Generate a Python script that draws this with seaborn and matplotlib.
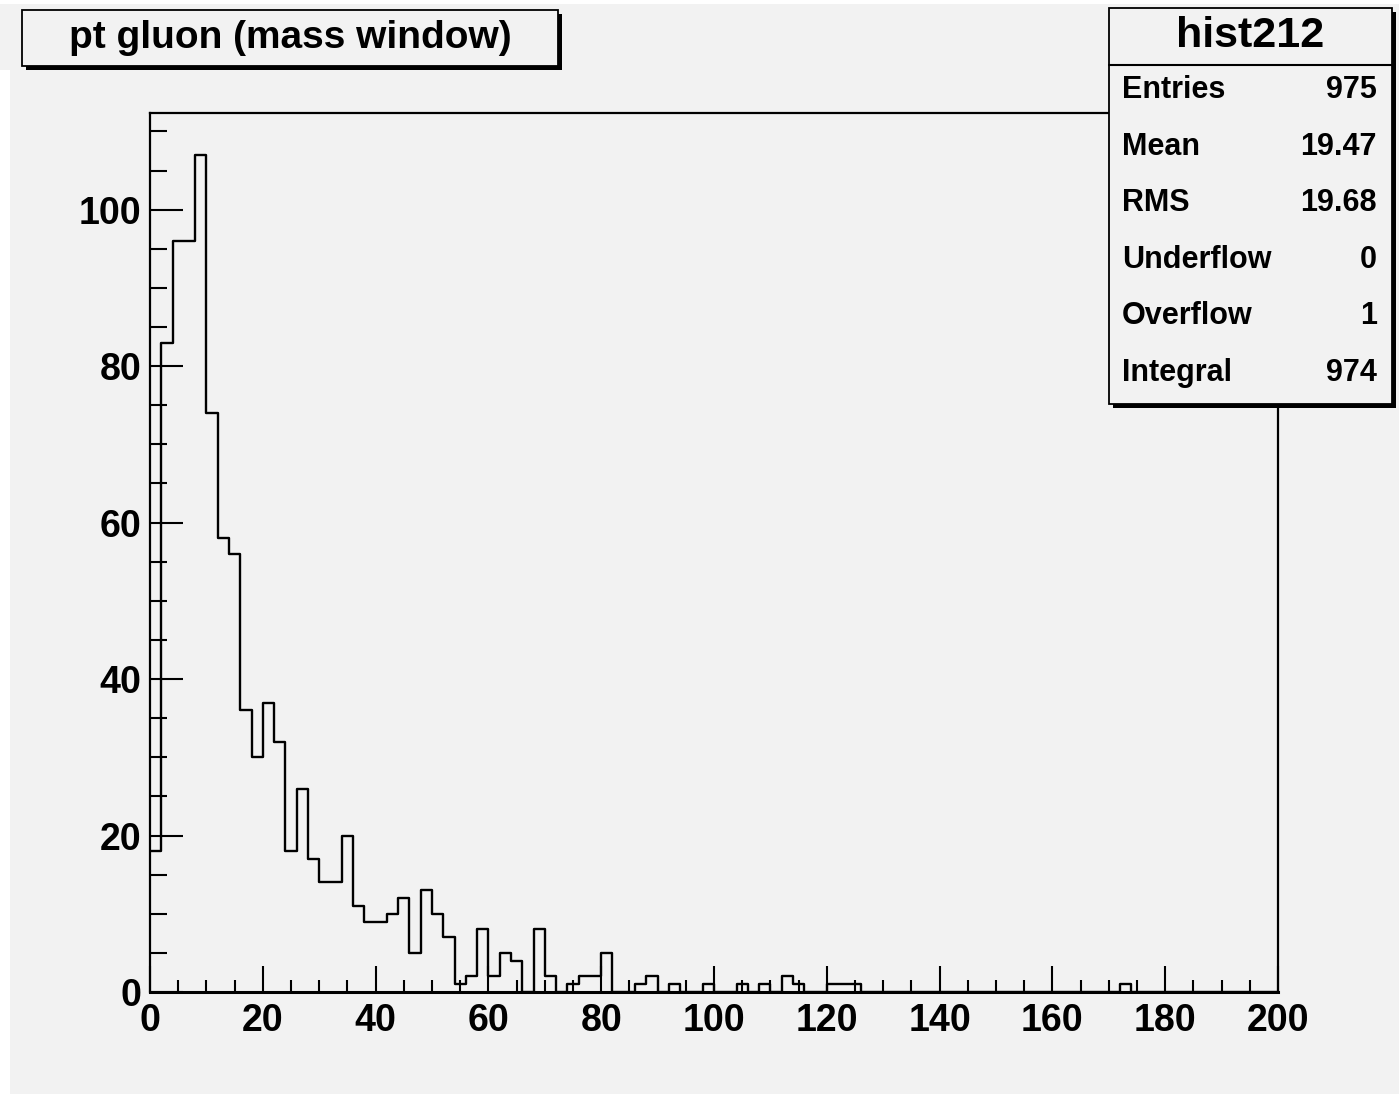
import numpy as np
import pandas as pd
import matplotlib
matplotlib.use("Agg")
import matplotlib.pyplot as plt
from matplotlib.patches import Rectangle
from matplotlib.lines import Line2D
from matplotlib.ticker import MultipleLocator
import seaborn as sns

# bin contents, 100 bins of width 2 from 0 to 200
counts = [18, 83, 96, 96, 107, 74, 58, 56, 36, 30,
          37, 32, 18, 26, 17, 14, 14, 20, 11, 9,
          9, 10, 12, 5, 13, 10, 7, 1, 2, 8,
          2, 5, 4, 0, 8, 2, 0, 1, 2, 2,
          5, 0, 0, 1, 2, 0, 1, 0, 0, 1,
          0, 0, 1, 0, 1, 0, 2, 1, 0, 0,
          1, 1, 1, 0, 0, 0, 0, 0, 0, 0,
          0, 0, 0, 0, 0, 0, 0, 0, 0, 0,
          0, 0, 0, 0, 0, 0, 1, 0, 0, 0,
          0, 0, 0, 0, 0, 0, 0, 0, 0, 0]
x_range = (0, 200)
x_ticks = [0, 20, 40, 60, 80, 100, 120, 140, 160, 180, 200]
y_ticks = [0, 20, 40, 60, 80, 100]

title = "pt gluon (mass window)"
hist_name = "hist212"
stat_labels = ["Entries", "Mean", "RMS", "Underflow", "Overflow", "Integral"]
stat_values = ["975", "19.47", "19.68", "0", "1", "974"]

W, H = 1399, 1094
BG = "#f2f2f2"

sns.set_style("ticks")
plt.rcParams["font.family"] = ["Liberation Sans", "DejaVu Sans"]
plt.rcParams["font.weight"] = "bold"
plt.rcParams["text.color"] = "black"
plt.rcParams["xtick.labelcolor"] = "black"
plt.rcParams["ytick.labelcolor"] = "black"


def fx(x):
    return x / W


def fy(y):
    return 1 - y / H


def box(fig, x0, y0, x1, y1, shadow=4):
    # ROOT style pave with a black drop shadow
    fig.add_artist(Rectangle((fx(x0 + shadow), fy(y1 + shadow)), fx(x1 - x0), (y1 - y0) / H,
                             transform=fig.transFigure, facecolor="black", edgecolor="none", zorder=5))
    fig.add_artist(Rectangle((fx(x0), fy(y1)), fx(x1 - x0), (y1 - y0) / H,
                             transform=fig.transFigure, facecolor=BG, edgecolor="black",
                             linewidth=1.3, zorder=6))


fig = plt.figure(figsize=(W / 100, H / 100), dpi=100, facecolor=BG)
# white canvas edges
fig.add_artist(Rectangle((0, fy(4)), 1, 4 / H, transform=fig.transFigure,
                         facecolor="white", edgecolor="none", zorder=0))
fig.add_artist(Rectangle((0, 0), fx(10), fy(70), transform=fig.transFigure,
                         facecolor="white", edgecolor="none", zorder=0))
ax = fig.add_axes([fx(150), fy(992), fx(1278 - 150), (992 - 113) / H])
ax.set_facecolor(BG)

nbins = len(counts)
width = (x_range[1] - x_range[0]) / nbins
df = pd.DataFrame({"pt": x_range[0] + width * (np.arange(nbins) + 0.5), "n": counts})
sns.histplot(data=df, x="pt", weights="n", bins=nbins, binrange=x_range,
             element="step", fill=False, color="black", linewidth=1.7, ax=ax)

ax.set_xlim(*x_range)
ax.set_ylim(0, max(counts) * 1.05)
ax.set_xticks(x_ticks)
ax.set_yticks(y_ticks)
ax.xaxis.set_minor_locator(MultipleLocator(5))
ax.yaxis.set_minor_locator(MultipleLocator(5))
ax.set_xlabel("")
ax.set_ylabel("")
for s in ax.spines.values():
    s.set_visible(True)
    s.set_color("black")
    s.set_linewidth(1.6)
ax.spines["bottom"].set_linewidth(2.2)
ax.tick_params(axis="both", which="both", direction="in", color="black", width=1.5,
               labelsize=27, labelcolor="black", top=False, right=False)
ax.tick_params(axis="y", which="major", length=24, pad=6)
ax.tick_params(axis="y", which="minor", length=12)
ax.tick_params(axis="x", which="major", length=19, pad=8)
ax.tick_params(axis="x", which="minor", length=9)
for lab in ax.get_xticklabels() + ax.get_yticklabels():
    lab.set_fontweight("bold")

# title pave
box(fig, 22, 10, 558, 66)
fig.text(fx(290), fy(38), title, ha="center", va="center", fontsize=28,
         fontweight="bold", color="black", zorder=7)

# stats pave
box(fig, 1109, 8, 1392, 404)
fig.add_artist(Line2D([fx(1109), fx(1392)], [fy(65), fy(65)], transform=fig.transFigure,
                      color="black", linewidth=1.5, zorder=7))
fig.text(fx(1250), fy(36), hist_name, ha="center", va="center", fontsize=31,
         fontweight="bold", color="black", zorder=7)
for i, (lab, val) in enumerate(zip(stat_labels, stat_values)):
    y = 90 + 56.6 * i
    fig.text(fx(1122), fy(y), lab, ha="left", va="center", fontsize=22,
             fontweight="bold", color="black", zorder=7)
    fig.text(fx(1377), fy(y), val, ha="right", va="center", fontsize=22,
             fontweight="bold", color="black", zorder=7)

fig.savefig("out.png", dpi=100, facecolor=BG)
